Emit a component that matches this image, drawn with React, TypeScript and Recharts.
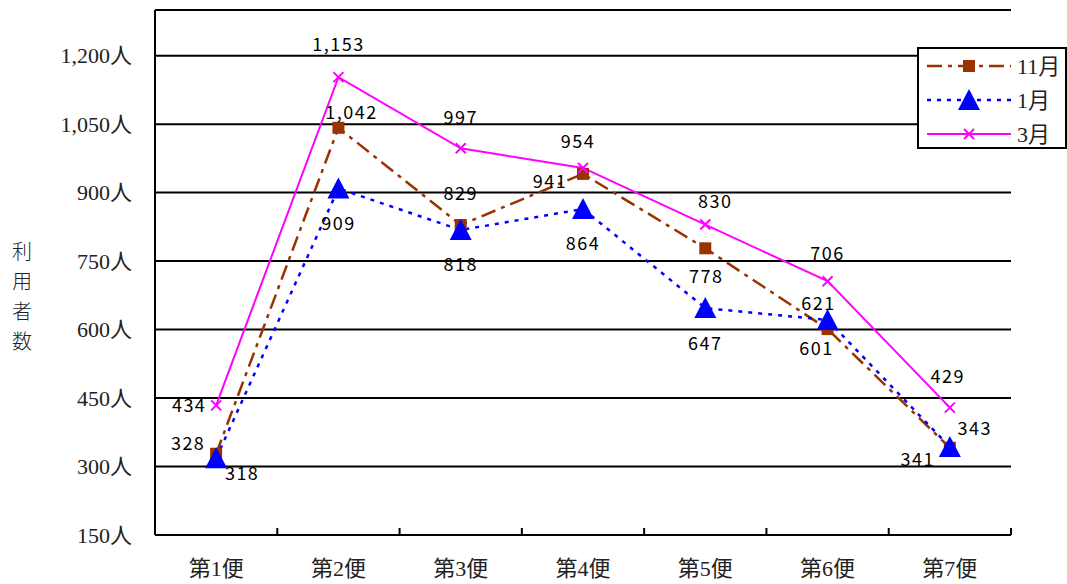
import React from 'react';
import { LineChart, Line, XAxis, YAxis, CartesianGrid, Legend, LabelList } from 'recharts';

// 便ごとの利用者数
const categories = ['第1便', '第2便', '第3便', '第4便', '第5便', '第6便', '第7便'];
const novUsers = [328, 1042, 829, 941, 778, 601, 341];
const janUsers = [318, 909, 818, 864, 647, 621, 343];
const marUsers = [434, 1153, 997, 954, 830, 706, 429];
const yTicks = [150, 300, 450, 600, 750, 900, 1050, 1200];

const data = categories.map((name, i) => ({
  name,
  nov: novUsers[i],
  jan: janUsers[i],
  mar: marUsers[i],
}));

const WIDTH = 1067;
const HEIGHT = 584;
const X_AXIS_HEIGHT = 30;
const MARGIN = { top: 10, right: 56, bottom: 49 - X_AXIS_HEIGHT, left: 0 };
const Y_AXIS_WIDTH = 155;
const BAND = (WIDTH - Y_AXIS_WIDTH - MARGIN.right) / categories.length;

const serif = "'Liberation Serif', 'Noto Sans CJK JP', serif";
const gothic = "'Noto Sans CJK JP', sans-serif";

// label offsets from each point (dx, dy), so labels don't collide
const novLabelPos = [[-28, -12], [13, -17], [0, -33], [-33, 6], [1, 27], [-11, 18], [-32, 10]];
const janLabelPos = [[26, 14], [0, 33], [0, 33], [0, 33], [0, 34], [-9, -18], [25, -20]];
const marLabelPos = [[-27, -1], [0, -34], [0, -32], [-5, -28], [10, -25], [0, -29], [-2, -33]];

const fmt = (v: number) => v.toLocaleString('en-US');

const makeLabel = (pos: number[][]) => (props: any) => {
  const { x, y, value, index } = props;
  const [dx, dy] = pos[index] || [0, 0];
  return (
    <text
      x={x + dx}
      y={y + dy}
      textAnchor="middle"
      dominantBaseline="central"
      fontFamily={gothic}
      fontSize={18}
      letterSpacing={1.5}
      fill="#000"
    >
      {fmt(value)}
    </text>
  );
};

const SquareDot = ({ cx, cy, color }: any) => (
  <rect x={cx - 6} y={cy - 6} width={12} height={12} fill={color} />
);

const TriangleDot = ({ cx, cy, color }: any) => (
  <polygon points={`${cx},${cy - 11} ${cx + 11},${cy + 10} ${cx - 11},${cy + 10}`} fill={color} />
);

const CrossDot = ({ cx, cy, color }: any) => (
  <g stroke={color} strokeWidth={2}>
    <line x1={cx - 5} y1={cy - 5} x2={cx + 5} y2={cy + 5} />
    <line x1={cx - 5} y1={cy + 5} x2={cx + 5} y2={cy - 5} />
  </g>
);

const series = [
  { key: 'nov', name: '11月', color: '#993300', width: 2.5, dash: '15 6 4 6', Dot: SquareDot, labels: novLabelPos },
  { key: 'jan', name: '1月', color: '#0000FF', width: 2.5, dash: '4 6', Dot: TriangleDot, labels: janLabelPos },
  { key: 'mar', name: '3月', color: '#FF00FF', width: 2, dash: undefined, Dot: CrossDot, labels: marLabelPos },
];

const CategoryTick = (props: any) => {
  const { x, y, payload, index } = props;
  const left = x - BAND / 2;
  const right = x + BAND / 2;
  return (
    <g>
      <line x1={left} y1={y} x2={left} y2={y - 7} stroke="#000" strokeWidth={2} />
      {index === categories.length - 1 && (
        <line x1={right} y1={y} x2={right} y2={y - 7} stroke="#000" strokeWidth={2} />
      )}
      <text x={x} y={y + 41} textAnchor="middle" fontFamily={serif} fontSize={22} fill="#222">
        {payload.value}
      </text>
    </g>
  );
};

const AxisTitle = () => {
  const chars = ['利', '用', '者', '数'];
  return (
    <g>
      {chars.map((c, i) => (
        <text
          key={c}
          x={22}
          y={250 + i * 30}
          textAnchor="middle"
          dominantBaseline="central"
          fontFamily={gothic}
          fontWeight={300}
          fontSize={20}
          fill="#222"
        >
          {c}
        </text>
      ))}
    </g>
  );
};

const LegendBox = () => (
  <svg width={150} height={102} style={{ display: 'block' }}>
    <rect x={1} y={1} width={148} height={100} fill="#fff" stroke="#000" strokeWidth={2} />
    {series.map((s, i) => {
      const cy = 19 + i * 34;
      return (
        <g key={s.key}>
          <line x1={10} y1={cy} x2={94} y2={cy} stroke={s.color} strokeWidth={s.width} strokeDasharray={s.dash} />
          <s.Dot cx={52} cy={cy} color={s.color} />
          <text x={100} y={cy} dominantBaseline="central" fontFamily={serif} fontSize={22} fill="#222">
            {s.name}
          </text>
        </g>
      );
    })}
  </svg>
);

export default function App() {
  return (
    <div style={{ position: 'absolute', left: 0, top: 0, background: '#fff' }}>
      <LineChart width={WIDTH} height={HEIGHT} data={data} margin={MARGIN}>
        <CartesianGrid horizontal vertical={false} stroke="#000" strokeWidth={2} />
        <XAxis
          dataKey="name"
          height={X_AXIS_HEIGHT}
          padding={{ left: BAND / 2, right: BAND / 2 }}
          axisLine={{ stroke: '#000', strokeWidth: 2 }}
          tickLine={false}
          tickSize={0}
          tickMargin={0}
          interval={0}
          tick={<CategoryTick />}
        />
        <YAxis
          width={Y_AXIS_WIDTH}
          domain={[150, 1300]}
          ticks={yTicks}
          interval={0}
          allowDataOverflow
          axisLine={{ stroke: '#000', strokeWidth: 2 }}
          tickLine={false}
          tickSize={0}
          tickMargin={23}
          tickFormatter={(v: number) => `${fmt(v)}人`}
          tick={{ fontFamily: serif, fontSize: 22, fill: '#222' }}
          label={{ content: <AxisTitle /> }}
        />
        <Legend
          layout="horizontal"
          verticalAlign="middle"
          align="center"
          content={<LegendBox />}
          wrapperStyle={{ position: 'absolute', left: 917, top: 47, width: 150, height: 102 }}
        />
        {series.map((s) => (
          <Line
            key={s.key}
            type="linear"
            dataKey={s.key}
            name={s.name}
            stroke={s.color}
            strokeWidth={s.width}
            strokeDasharray={s.dash}
            dot={(p: any) => <s.Dot key={`${s.key}-${p.index}`} cx={p.cx} cy={p.cy} color={s.color} />}
            activeDot={false}
            isAnimationActive={false}
          >
            <LabelList dataKey={s.key} content={makeLabel(s.labels)} />
          </Line>
        ))}
      </LineChart>
    </div>
  );
}
